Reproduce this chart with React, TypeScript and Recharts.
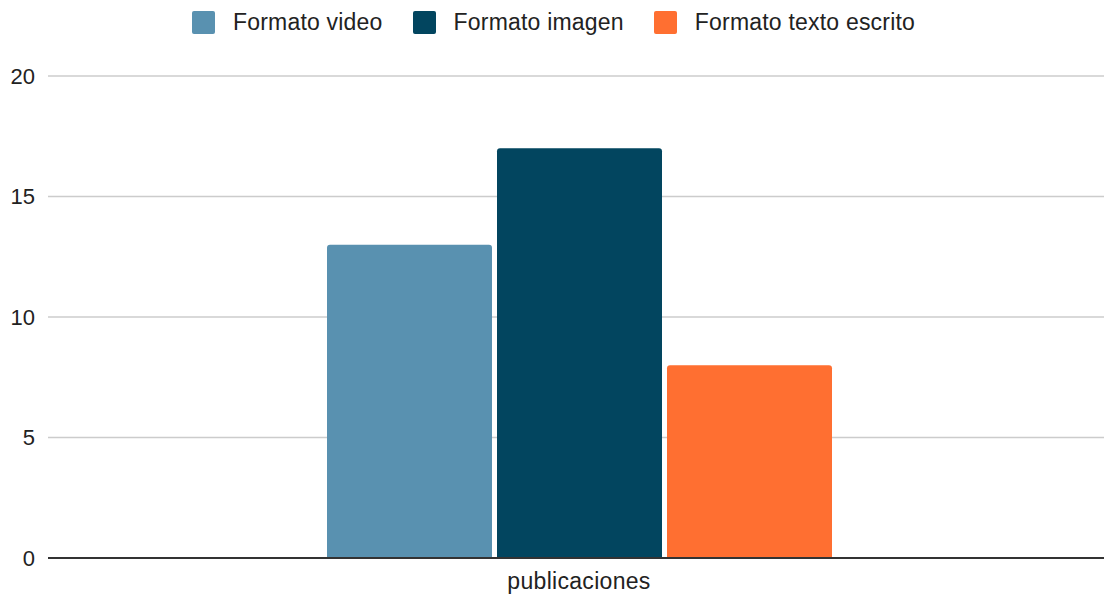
import React from "react";
import { BarChart, Bar, CartesianGrid, XAxis, YAxis } from "recharts";

const categories = ["publicaciones"];
const seriesNames = ["Formato video", "Formato imagen", "Formato texto escrito"];
const seriesKeys = ["video", "imagen", "texto"];
const seriesColors = ["#5991b0", "#02455f", "#ff6f31"];
const videoValues = [13];
const imagenValues = [17];
const textoValues = [8];
const yTicks = [0, 5, 10, 15, 20];

const data = categories.map((name, i) => ({
  name,
  video: videoValues[i],
  imagen: imagenValues[i],
  texto: textoValues[i],
}));

const font = "'Liberation Sans', Arial, sans-serif";

export default function App() {
  return (
    <div style={{ position: "absolute", left: 0, top: 0, width: 1104, height: 596, fontFamily: font }}>
      {/* legend on top, drawn as plain html so it does not shift the plot */}
      <div
        style={{
          position: "absolute",
          top: 11,
          left: 0,
          width: 1104,
          display: "flex",
          justifyContent: "center",
          gap: 30,
          paddingLeft: 3,
          boxSizing: "border-box",
        }}
      >
        {seriesNames.map((n, i) => (
          <div key={n} style={{ display: "flex", alignItems: "center" }}>
            <span
              style={{
                width: 23,
                height: 23,
                borderRadius: 2,
                background: seriesColors[i],
                display: "inline-block",
                marginRight: 18,
              }}
            />
            <span style={{ fontSize: 23, color: "#222", lineHeight: "23px", letterSpacing: 0.2 }}>{n}</span>
          </div>
        ))}
      </div>
      <BarChart
        width={1104}
        height={596}
        data={data}
        margin={{ top: 76, right: 0, bottom: 0, left: 0 }}
        barSize={165}
        barGap={5}
      >
        <CartesianGrid vertical={false} stroke="#cccccc" strokeWidth={1.5} />
        <XAxis
          dataKey="name"
          height={38}
          padding={{ left: 6, right: 0 }}
          tickLine={false}
          axisLine={{ stroke: "#333333", strokeWidth: 2 }}
          tick={{ fontSize: 23, fill: "#222", fontFamily: font, letterSpacing: 0.3 }}
          tickMargin={9}
        />
        <YAxis
          width={48}
          domain={[0, 20]}
          ticks={yTicks}
          tickLine={false}
          axisLine={false}
          tickMargin={7}
          tick={{ fontSize: 22, fill: "#222", fontFamily: font }}
        />
        {seriesKeys.map((k, i) => (
          <Bar
            key={k}
            dataKey={k}
            name={seriesNames[i]}
            fill={seriesColors[i]}
            radius={[3, 3, 0, 0]}
            isAnimationActive={false}
          />
        ))}
      </BarChart>
    </div>
  );
}
